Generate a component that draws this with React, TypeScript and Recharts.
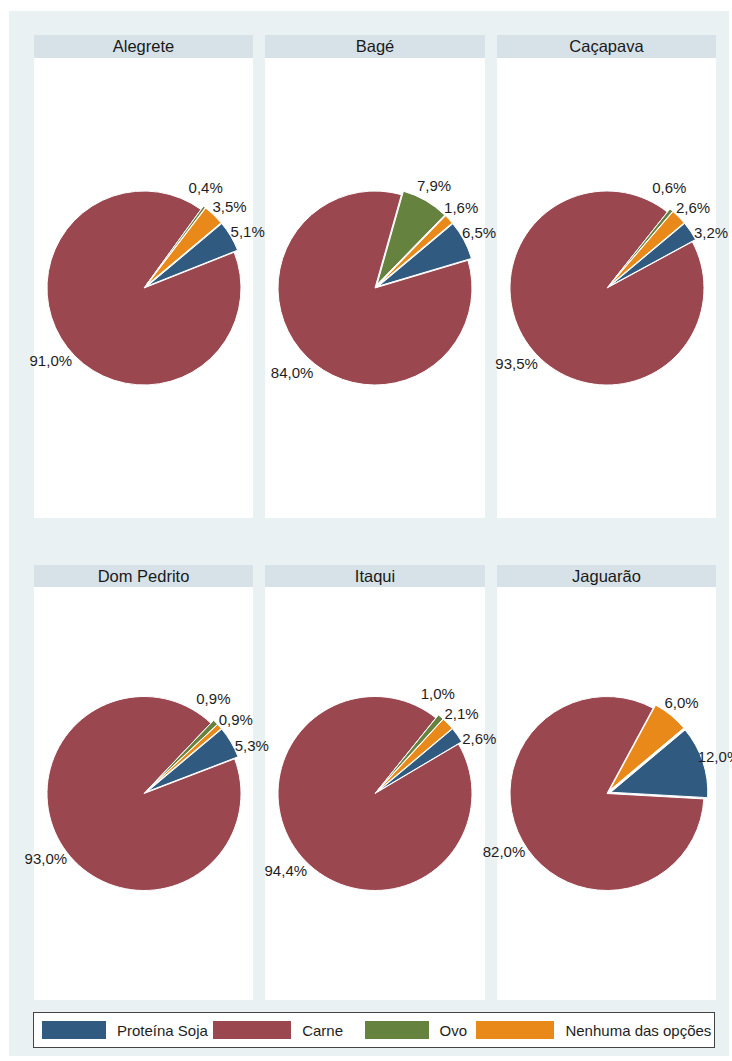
import React from "react";
import { PieChart, Pie, Cell } from "recharts";

// dados por município (percentuais)
const cities = ["Alegrete", "Bagé", "Caçapava", "Dom Pedrito", "Itaqui", "Jaguarão"];
const categories = ["Proteína Soja", "Carne", "Ovo", "Nenhuma das opções"];
const proteinaSoja = [5.1, 6.5, 3.2, 5.3, 2.6, 12.0];
const carne = [91.0, 84.0, 93.5, 93.0, 94.4, 82.0];
const ovo = [0.4, 7.9, 0.6, 0.9, 1.0, 0.0];
const nenhuma = [3.5, 1.6, 2.6, 0.9, 2.1, 6.0];

const series = [proteinaSoja, carne, ovo, nenhuma];
const colors = ["#305a80", "#9a4750", "#65823f", "#e8891a"];
const exploded = [true, false, true, true];

const START = 40;
const RADIUS = 97;
const EXPLODE = 4;
const LABEL_R = 118;
const MIN_SEP = 15;
const RADIAN = Math.PI / 180;
const FONT = '"Liberation Sans", Arial, Helvetica, sans-serif';

const fmt = (v: number) => v.toFixed(1).replace(".", ",") + "%";

const colLefts = [34, 265, 497];
const colWidths = [219, 220, 219];
const rows = [
  { headerTop: 35, headerH: 23, bodyH: 460 },
  { headerTop: 565, headerH: 22, bodyH: 413 },
];
const CHART_W = 300;

// afasta rótulos vizinhos que ficariam sobrepostos
function spreadAngles(mids: number[], values: number[]) {
  const out = mids.slice();
  const idx = mids.map((_, k) => k).filter((k) => values[k] > 0).sort((a, b) => out[a] - out[b]);
  for (let it = 0; it < 60; it++) {
    for (let n = 0; n < idx.length - 1; n++) {
      const a = idx[n], b = idx[n + 1];
      const gap = out[b] - out[a];
      if (gap < MIN_SEP) {
        const push = (MIN_SEP - gap) / 2;
        out[a] -= push;
        out[b] += push;
      }
    }
  }
  return out;
}

function CityPie({ index, height }: { index: number; height: number }) {
  const data = categories.map((name, k) => ({ name, value: series[k][index] }));
  const total = data.reduce((s, d) => s + d.value, 0);
  let acc = 0;
  const mids = data.map((d) => {
    let m = START - ((acc + d.value / 2) / total) * 360;
    acc += d.value;
    while (m < -90) m += 360;
    return m;
  });
  const labelAngles = spreadAngles(mids, data.map((d) => d.value));
  const cx = CHART_W / 2;
  const cy = height / 2;

  return (
    <PieChart width={CHART_W} height={height} margin={{ top: 0, right: 0, bottom: 0, left: 0 }}>
      {data.map((d, k) => {
        const shift = exploded[k] ? EXPLODE : 0;
        const a = mids[k] * RADIAN;
        return (
          <Pie
            key={d.name}
            data={data}
            dataKey="value"
            nameKey="name"
            cx={cx + shift * Math.cos(a)}
            cy={cy - shift * Math.sin(a)}
            outerRadius={RADIUS}
            startAngle={START}
            endAngle={START - 360}
            isAnimationActive={false}
            labelLine={false}
            label={(p: any) => {
              if (p.index !== k || !(p.value > 0)) return <g />;
              const la = labelAngles[k] * RADIAN;
              const x = cx + LABEL_R * Math.cos(la);
              const y = cy - LABEL_R * Math.sin(la);
              return (
                <text x={x} y={y} textAnchor="middle" dominantBaseline="central"
                  fontFamily={FONT} fontSize={15} fill="#1e1e1e">
                  {fmt(p.value)}
                </text>
              );
            }}
          >
            {data.map((e, j) => (
              <Cell key={j} fill={j === k ? colors[k] : "none"} stroke={j === k ? "#fff" : "none"} strokeWidth={1} />
            ))}
          </Pie>
        );
      })}
    </PieChart>
  );
}

const legendWidths = [173, 153, 113, 240];

export default function App() {
  return (
    <div style={{ position: "absolute", left: 0, top: 0, width: 732, height: 1061, overflow: "hidden", background: "#fff", fontFamily: FONT }}>
      <div style={{ position: "absolute", left: 9, top: 11, width: 720, height: 1045, background: "#eaf1f3" }} />
      {cities.map((city, i) => {
        const row = rows[Math.floor(i / 3)];
        const col = i % 3;
        const bodyTop = row.headerTop + row.headerH;
        return (
          <React.Fragment key={city}>
            <div style={{ position: "absolute", left: colLefts[col], top: row.headerTop, width: colWidths[col], height: row.headerH, background: "#d6e2e8", textAlign: "center", lineHeight: row.headerH + "px", fontSize: 16.5, color: "#1a1a1a" }}>
              {city}
            </div>
            <div style={{ position: "absolute", left: colLefts[col], top: bodyTop, width: colWidths[col], height: row.bodyH, background: "#fff" }} />
          </React.Fragment>
        );
      })}
      {cities.map((city, i) => {
        const row = rows[Math.floor(i / 3)];
        const col = i % 3;
        const bodyTop = row.headerTop + row.headerH;
        return (
          <div key={city + "-chart"} style={{ position: "absolute", left: colLefts[col] + colWidths[col] / 2 - CHART_W / 2, top: bodyTop }}>
            <CityPie index={i} height={row.bodyH} />
          </div>
        );
      })}
      <div style={{ position: "absolute", left: 33, top: 1012, width: 680, height: 34, background: "#fff", border: "1px solid #444", display: "flex", alignItems: "center", boxSizing: "content-box" }}>
        <div style={{ width: 8 }} />
        {categories.map((c, k) => (
          <div key={c} style={{ width: legendWidths[k], display: "flex", alignItems: "center" }}>
            <div style={{ width: k % 2 === 1 ? 78 : 64, height: 18, background: colors[k] }} />
            <span style={{ marginLeft: 11, fontSize: 15, color: "#1e1e1e", whiteSpace: "nowrap" }}>{c}</span>
          </div>
        ))}
      </div>
    </div>
  );
}
